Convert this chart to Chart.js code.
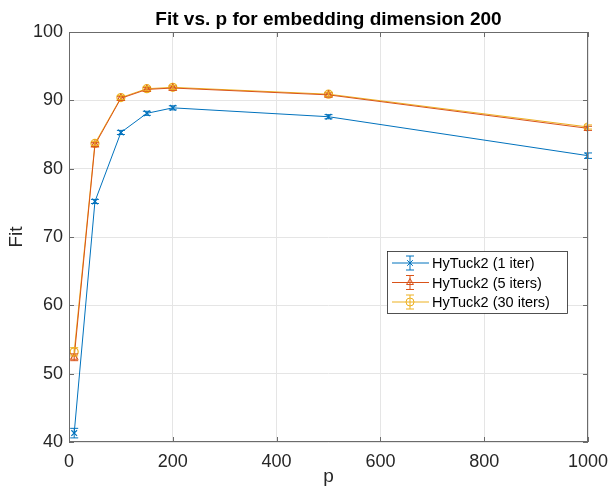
<!DOCTYPE html>
<html>
<head>
<meta charset="utf-8">
<script src="https://cdn.jsdelivr.net/npm/chart.js@4.4.1/dist/chart.umd.min.js"></script>
<style>
  html, body { margin: 0; padding: 0; background: #fff; }
  #wrap { width: 611px; height: 493px; }
</style>
</head>
<body>
<div id="wrap"><canvas id="fitChart" width="611" height="493"></canvas></div>
<script>
const pValues = [10, 50, 100, 150, 200, 500, 1000];
const fit1 = [41.3, 75.2, 85.3, 88.1, 88.9, 87.6, 81.9];
const fit5 = [52.4, 83.5, 90.3, 91.6, 91.8, 90.8, 85.9];
const fit30 = [53.2, 83.7, 90.4, 91.7, 91.9, 90.9, 86.1];
const err1 = [0.7, 0.3, 0.3, 0.3, 0.3, 0.3, 0.4];
const err5 = [0.5, 0.3, 0.3, 0.3, 0.3, 0.3, 0.3];
const err30 = [0.6, 0.3, 0.3, 0.3, 0.3, 0.3, 0.3];
const seriesLabels = ["HyTuck2 (1 iter)", "HyTuck2 (5 iters)", "HyTuck2 (30 iters)"];
const xTicks = [0, 200, 400, 600, 800, 1000];
const yTicks = [40, 50, 60, 70, 80, 90, 100];
const chartTitle = "Fit vs. p for embedding dimension 200";

const FONT = "'Liberation Sans', Arial, Helvetica, sans-serif";
const colors = ["#0072BD", "#D95319", "#EDB120"];
const styles = ["crossRot", "triangle", "circle"];

function toPoints(ys) {
  return pValues.map((p, i) => ({ x: p, y: ys[i] }));
}

const errs = [err1, err5, err30];

// error bars, inward ticks, box, title, legend
const matlabLook = {
  id: "matlabLook",
  afterDatasetsDraw(chart) {
    const c = chart.ctx;
    const xs = chart.scales.x, ys = chart.scales.y;
    c.save();
    chart.data.datasets.forEach((ds, k) => {
      c.strokeStyle = colors[k];
      c.lineWidth = 1;
      ds.data.forEach((pt, i) => {
        const px = xs.getPixelForValue(pt.x);
        const top = ys.getPixelForValue(pt.y + errs[k][i]);
        const bot = ys.getPixelForValue(pt.y - errs[k][i]);
        c.beginPath();
        c.moveTo(px, top); c.lineTo(px, bot);
        c.moveTo(px - 4, top); c.lineTo(px + 4, top);
        c.moveTo(px - 4, bot); c.lineTo(px + 4, bot);
        c.stroke();
      });
    });
    c.restore();
  },
  afterDraw(chart) {
    const c = chart.ctx;
    const a = chart.chartArea;
    const xs = chart.scales.x, ys = chart.scales.y;
    c.save();
    // box + inward ticks
    c.strokeStyle = "#6b6b6b";
    c.lineWidth = 1;
    c.strokeRect(a.left + 0.5, a.top + 0.5, a.right - a.left - 1, a.bottom - a.top - 1);
    c.beginPath();
    xTicks.forEach(v => {
      const px = Math.round(xs.getPixelForValue(v)) + 0.5;
      c.moveTo(px, a.bottom); c.lineTo(px, a.bottom - 5);
      c.moveTo(px, a.top); c.lineTo(px, a.top + 5);
    });
    yTicks.forEach(v => {
      const py = Math.round(ys.getPixelForValue(v)) + 0.5;
      c.moveTo(a.left, py); c.lineTo(a.left + 5, py);
      c.moveTo(a.right, py); c.lineTo(a.right - 5, py);
    });
    c.stroke();

    // title
    c.fillStyle = "#000";
    c.font = "bold 19px " + FONT;
    c.textAlign = "center";
    c.textBaseline = "alphabetic";
    c.fillText(chartTitle, (a.left + a.right) / 2, 25);

    // legend
    const lx = 387, ly = 251, lw = 180, lh = 62;
    c.fillStyle = "#fff";
    c.fillRect(lx, ly, lw, lh);
    c.strokeStyle = "#262626";
    c.lineWidth = 0.8;
    c.strokeRect(lx + 0.5, ly + 0.5, lw, lh);
    seriesLabels.forEach((lab, k) => {
      const y = ly + 12 + k * 19.5;
      c.strokeStyle = colors[k];
      c.lineWidth = 1;
      c.beginPath();
      c.moveTo(lx + 5, y); c.lineTo(lx + 42, y);
      c.moveTo(lx + 23, y - 7); c.lineTo(lx + 23, y + 7);
      c.moveTo(lx + 19, y - 7); c.lineTo(lx + 27, y - 7);
      c.moveTo(lx + 19, y + 7); c.lineTo(lx + 27, y + 7);
      c.stroke();
      c.fillStyle = "rgba(0,0,0,0)";
      Chart.helpers.drawPoint(c, { pointStyle: styles[k], radius: 4, borderWidth: 1.2 }, lx + 23, y);
      c.fillStyle = "#000";
      c.font = "14.5px " + FONT;
      c.textBaseline = "middle";
      c.textAlign = "left";
      c.fillText(lab, lx + 45, y + 1);
    });
    c.restore();
  }
};

new Chart(document.getElementById("fitChart"), {
  type: "line",
  data: {
    datasets: [fit1, fit5, fit30].map((ys, k) => ({
      label: seriesLabels[k],
      data: toPoints(ys),
      borderColor: colors[k],
      backgroundColor: "rgba(0,0,0,0)",
      borderWidth: 1,
      pointStyle: styles[k],
      pointRadius: 4,
      pointBorderWidth: 1.2,
      pointBorderColor: colors[k],
      pointBackgroundColor: "rgba(0,0,0,0)",
      tension: 0,
    })),
  },
  options: {
    responsive: false,
    animation: false,
    layout: { padding: { top: 32, right: 23, left: 0, bottom: 0 } },
    scales: {
      x: {
        type: "linear",
        min: 0,
        max: 1000,
        afterFit: (s) => { s.height = 51; s.paddingLeft = 0; s.paddingRight = 0; },
        afterBuildTicks: (s) => { s.ticks = xTicks.map(v => ({ value: v })); },
        grid: { color: "#e5e5e5", drawTicks: false },
        border: { display: false },
        ticks: { color: "#262626", padding: 9, font: { family: FONT, size: 18 }, callback: (v) => String(v) },
        title: { display: true, text: "p", color: "#262626", padding: { top: 0, bottom: 5 }, font: { family: FONT, size: 19 } },
      },
      y: {
        min: 40,
        max: 100,
        afterFit: (s) => { s.width = 69; s.paddingTop = 0; s.paddingBottom = 0; },
        afterBuildTicks: (s) => { s.ticks = yTicks.map(v => ({ value: v })); },
        grid: { color: "#e5e5e5", drawTicks: false },
        border: { display: false },
        ticks: { color: "#262626", padding: 6, font: { family: FONT, size: 18 }, callback: (v) => String(v) },
        title: { display: true, text: "Fit", color: "#262626", padding: { top: 5, bottom: 0 }, font: { family: FONT, size: 19 } },
      },
    },
    plugins: {
      legend: { display: false },
      tooltip: { enabled: false },
      title: { display: false },
    },
  },
  plugins: [matlabLook],
});
</script>
</body>
</html>
